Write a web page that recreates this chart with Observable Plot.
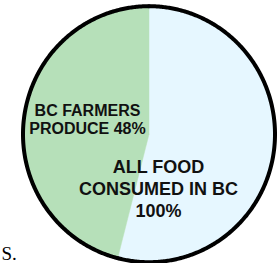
<!DOCTYPE html>
<html>
<head>
<meta charset="utf-8">
<script src="https://cdn.jsdelivr.net/npm/d3@7"></script>
<script src="https://cdn.jsdelivr.net/npm/@observablehq/plot@0.6"></script>
<style>
  html, body { margin: 0; padding: 0; background: #fff; }
  #chart svg { display: block; }
</style>
</head>
<body>
<div id="chart"></div>
<script>
// ---- data ----
const categories = ["ALL FOOD CONSUMED IN BC", "BC FARMERS PRODUCE"];
const shares = [54, 46];               // slice sizes as drawn
const labels = ["ALL FOOD\nCONSUMED IN BC\n100%", "BC FARMERS\nPRODUCE 48%"];
const colors = ["#e6f7ff", "#b6e0b9"];
const footText = ["S."];

// ---- geometry from d3.pie ----
const pie = d3.pie().sort(null).value(d => d.share);
const arcs = pie(categories.map((c, i) => ({category: c, share: shares[i], label: labels[i]})));

const slicePts = [];
const rimPts = [];
arcs.forEach(a => {
  const n = Math.max(4, Math.ceil((a.endAngle - a.startAngle) / 0.01));
  slicePts.push({category: a.data.category, x: 0, y: 0});
  for (let k = 0; k <= n; k++) {
    const t = a.startAngle + (a.endAngle - a.startAngle) * k / n;
    const p = {category: a.data.category, x: Math.sin(t), y: Math.cos(t)};
    slicePts.push(p);
    rimPts.push(p);
  }
  slicePts.push({category: a.data.category, x: 0, y: 0});
});

const labelPts = arcs.map(a => {
  const m = (a.startAngle + a.endAngle) / 2;
  return {category: a.data.category, label: a.data.label, x: 0.5 * Math.sin(m), y: 0.5 * Math.cos(m)};
});

const chart = Plot.plot({
  width: 279,
  height: 263,
  margin: 0,
  x: {domain: [-148.5 / 126, 130.5 / 126], axis: null},
  y: {domain: [-(263 - 133.7) / 128, 133.7 / 128], axis: null},
  color: {domain: categories, range: colors},
  marks: [
    Plot.line(slicePts, {x: "x", y: "y", z: "category", fill: "category", stroke: "category", strokeWidth: 0.5, curve: "linear"}),
    Plot.line(rimPts, {x: "x", y: "y", z: "category", stroke: "#000", strokeWidth: 4, fill: "none"}),
    Plot.text(labelPts.filter(d => d.category === categories[1]), {
      x: "x", y: "y", text: "label", fontSize: 16, fontWeight: "bold",
      fontFamily: "Liberation Sans, Arial, sans-serif", fill: "#111",
      lineHeight: 1.15, dx: 1, dy: -7
    }),
    Plot.text(labelPts.filter(d => d.category === categories[0]), {
      x: "x", y: "y", text: "label", fontSize: 18, fontWeight: "bold",
      fontFamily: "Liberation Sans, Arial, sans-serif", fill: "#111",
      lineHeight: 1.22, dx: -53, dy: 46
    }),
    Plot.text(footText, {
      frameAnchor: "bottom-left", text: d => d, textAnchor: "start", lineAnchor: "bottom",
      fontSize: 19, fontFamily: "Liberation Serif, Times New Roman, serif", fill: "#000",
      dx: 1, dy: -4
    })
  ]
});
document.getElementById("chart").appendChild(chart);
</script>
</body>
</html>
